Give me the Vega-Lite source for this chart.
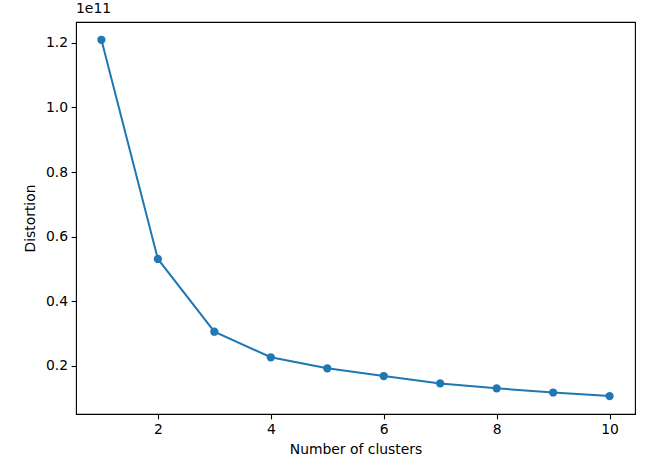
{
  "$schema": "https://vega.github.io/schema/vega-lite/v6.json",
  "width": 559,
  "height": 392,
  "autosize": {"type": "none"},
  "padding": {"left": 76, "top": 22, "right": 17, "bottom": 50},
  "background": "white",
  "title": {"text": "1e11", "anchor": "start", "frame": "group", "font": "DejaVu Sans", "fontSize": 13.9, "fontWeight": "normal", "color": "black", "offset": 6, "dx": 0},
  "config": {
    "view": {"stroke": "black", "strokeWidth": 1.1},
    "axis": {
      "labelFont": "DejaVu Sans", "labelFontSize": 13.9, "labelColor": "black",
      "titleFont": "DejaVu Sans", "titleFontSize": 13.9, "titleColor": "black", "titleFontWeight": "normal",
      "tickColor": "black", "tickSize": 4.9, "tickWidth": 1.1, "labelPadding": 3.5,
      "domain": false, "grid": false
    }
  },
  "data": {"values": [
    {"k": 1, "d": 120900000000},
    {"k": 2, "d": 53100000000},
    {"k": 3, "d": 30600000000},
    {"k": 4, "d": 22700000000},
    {"k": 5, "d": 19300000000},
    {"k": 6, "d": 16900000000},
    {"k": 7, "d": 14600000000},
    {"k": 8, "d": 13100000000},
    {"k": 9, "d": 11800000000},
    {"k": 10, "d": 10700000000}
  ]},
  "encoding": {
    "x": {"field": "k", "type": "quantitative", "title": "Number of clusters",
      "scale": {"domain": [0.55, 10.45], "nice": false, "zero": false},
      "axis": {"values": [2, 4, 6, 8, 10], "titlePadding": 6}},
    "y": {"field": "d", "type": "quantitative", "title": "Distortion",
      "scale": {"domain": [5150000000, 126400000000], "nice": false, "zero": false},
      "axis": {"values": [20000000000, 40000000000, 60000000000, 80000000000, 100000000000, 120000000000],
        "labelExpr": "format(datum.value/1e11, '.1f')", "titlePadding": 8}}
  },
  "layer": [
    {"mark": {"type": "line", "color": "#1f77b4", "strokeWidth": 2}},
    {"mark": {"type": "point", "filled": true, "color": "#1f77b4", "opacity": 1, "size": 68, "shape": "circle"}}
  ]
}
